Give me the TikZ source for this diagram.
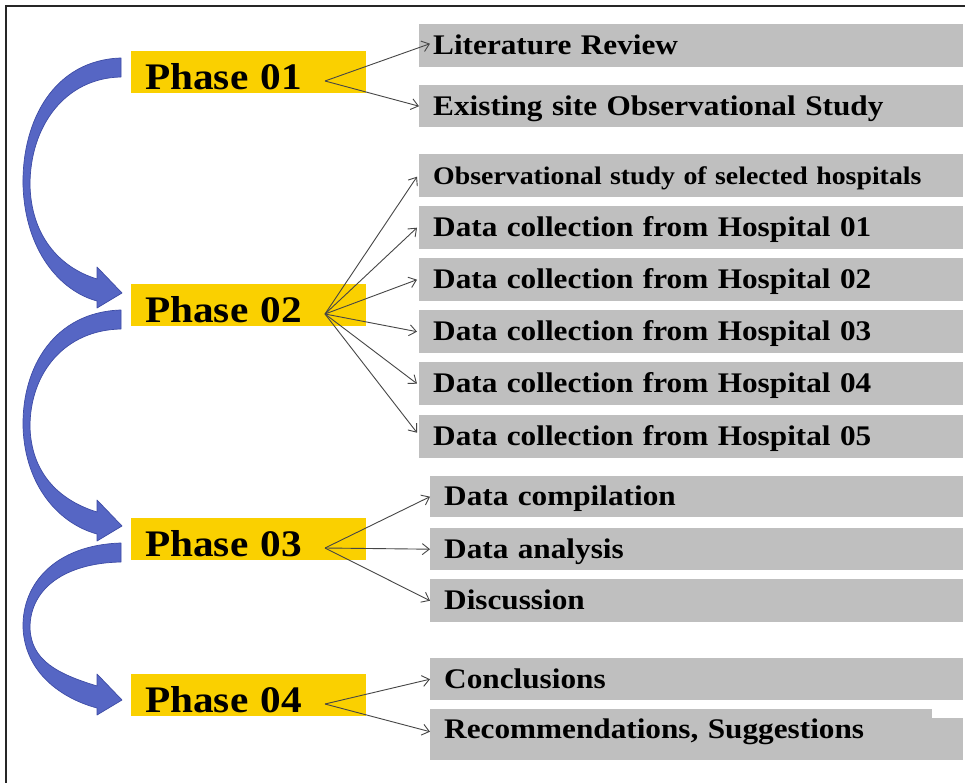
\documentclass[tikz,border=0pt]{standalone}
\usepackage{fontspec}
\setmainfont{Liberation Serif}[FakeStretch=1.1]
\usetikzlibrary{arrows.meta,calc}
\definecolor{phaseyellow}{RGB}{250,208,0}
\definecolor{boxgrey}{RGB}{191,191,191}
\definecolor{arcblue}{RGB}{86,102,196}
\definecolor{arcedge}{RGB}{62,76,165}
\definecolor{fanline}{RGB}{70,70,70}
\newcommand\phasearrow[2]{%
\path[bluearc] (121,#1) .. controls (55,{#1+2}) and (22,{#1+0.26*(#2-#1)}) .. (23,{#1+0.54*(#2-#1)})
 .. controls (25,{#1+0.82*(#2-#1)}) and (60,{#2-2}) .. (97,{#2+8})
 -- (97,{#2+15}) -- (122,#2) -- (97,{#2-26}) -- (97,{#2-14})
 .. controls (58,{#2-26}) and (31,{#1+0.75*(#2-#1)}) .. (30,{#1+0.54*(#2-#1)})
 .. controls (30,{#1+0.29*(#2-#1)}) and (65,{#1+20}) .. (121,{#1+19}) -- cycle;}
\begin{document}
\begin{tikzpicture}[x=1pt,y=-1pt,
  phasebox/.style={fill=phaseyellow, minimum width=235pt, minimum height=42pt, text width=207pt,
    inner xsep=14pt, inner ysep=0pt, align=left, text height=34pt, text depth=0pt,
    font=\bfseries\fontsize{37.5}{40}\selectfont, anchor=north west},
  taskbox/.style={fill=boxgrey, minimum height=43pt, inner xsep=14pt, inner ysep=0pt, align=left,
    text height=18pt, text depth=0pt, font=\bfseries\fontsize{28.4}{32}\selectfont, anchor=north west},
  groupA/.style={taskbox, minimum width=544pt, text width=516pt},
  groupB/.style={taskbox, minimum width=533pt, text width=505pt},
  fan/.style={draw=fanline, line width=0.9pt, -{Straight Barb[length=7pt,width=11pt]}},
  bluearc/.style={fill=arcblue, draw=arcedge, line width=0.7pt, line join=round}]
\useasboundingbox (0,0) rectangle (965,783);
\fill[white] (0,0) rectangle (965,783);
\draw[line width=1.3pt, black!85] (6,790) -- (6,6) -- (970,6);

% phases
\node[phasebox] (p1) at (131,51) {Phase 01};
\node[phasebox] (p2) at (131,284) {Phase 02};
\node[phasebox] (p3) at (131,518) {Phase 03};
\node[phasebox] (p4) at (131,674) {Phase 04};

% tasks
\node[groupA] (lit) at (419,24) {Literature Review};
\node[groupA, minimum height=42pt] (exist) at (419,85) {Existing site Observational Study};
\node[groupA, font=\bfseries\fontsize{25.3}{28}\selectfont] (obs) at (419,154) {Observational study of selected hospitals};
\node[groupA] (dc1) at (419,206) {Data collection from Hospital 01};
\node[groupA] (dc2) at (419,258) {Data collection from Hospital 02};
\node[groupA] (dc3) at (419,310) {Data collection from Hospital 03};
\node[groupA] (dc4) at (419,362) {Data collection from Hospital 04};
\node[groupA] (dc5) at (419,415) {Data collection from Hospital 05};
\node[groupB, minimum height=41pt] (comp) at (430,476) {Data compilation};
\node[groupB, minimum height=42pt] (anal) at (430,528) {Data analysis};
\node[groupB] (disc) at (430,579) {Discussion};
\node[groupB, minimum height=42pt] (concl) at (430,658) {Conclusions};
\node[groupB, minimum height=51pt, text height=8pt] (recom) at (430,709) {Recommendations, Suggestions};
\fill[white] (932,707) rectangle (970,718);

% fan origins
\coordinate (o1) at ($(p1.north west)+(194,30)$);
\coordinate (o2) at ($(p2.north west)+(194,30)$);
\coordinate (o3) at ($(p3.north west)+(194,30)$);
\coordinate (o4) at ($(p4.north west)+(194,30)$);

\draw[fan] (o1) -- ($(lit.west)+(11,-2)$);
\draw[fan] (o1) -- (exist.west);
\draw[fan] (o2) -- ($(obs.west)+(-2,1)$);
\draw[fan] (o2) -- ($(dc1.west)+(-2,0)$);
\draw[fan] (o2) -- ($(dc2.west)+(-2,0)$);
\draw[fan] (o2) -- ($(dc3.west)+(-2,0)$);
\draw[fan] (o2) -- ($(dc4.west)+(-2,0)$);
\draw[fan] (o2) -- ($(dc5.west)+(-2,-4)$);
\draw[fan] (o3) -- (comp.west);
\draw[fan] (o3) -- (anal.west);
\draw[fan] (o3) -- (disc.west);
\draw[fan] (o4) -- (concl.west);
\draw[fan] (o4) -- ($(recom.west)+(0,-3)$);

% curved phase arrows
\phasearrow{58}{293}
\phasearrow{310}{526}
\phasearrow{543}{700}
\end{tikzpicture}
\end{document}
